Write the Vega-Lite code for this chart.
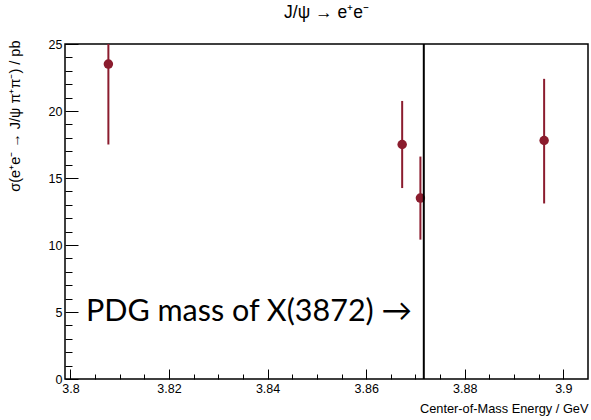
{
  "$schema": "https://vega.github.io/schema/vega-lite/v6.json",
  "width": 523,
  "height": 335,
  "autosize": {"type": "none"},
  "padding": {"left": 65, "top": 44, "right": 3, "bottom": 41},
  "background": "white",
  "title": {"text": "J/ψ → e⁺e⁻", "anchor": "middle", "fontSize": 17.5, "font": "Liberation Sans", "fontWeight": "normal", "offset": 17, "color": "black"},
  "config": {
    "view": {"stroke": "black", "strokeWidth": 1.5},
    "axis": {"domain": false, "grid": false, "zindex": 1, "labelFont": "Liberation Sans", "labelFontSize": 12.5, "labelColor": "black", "tickColor": "black", "titleFont": "Liberation Sans", "titleFontWeight": "normal", "titleFontSize": 12.8, "titleColor": "black"}
  },
  "datasets": {
    "points": [
      {"energy": 3.8077, "sigma": 23.5, "lo": 17.5, "hi": 29.5},
      {"energy": 3.8673, "sigma": 17.5, "lo": 14.25, "hi": 20.75},
      {"energy": 3.8710, "sigma": 13.5, "lo": 10.4, "hi": 16.6},
      {"energy": 3.8961, "sigma": 17.8, "lo": 13.1, "hi": 22.4}
    ],
    "mass": [{"energy": 3.87169, "textpos": 3.8693, "y": 5, "label": "PDG mass of X(3872) →"}]
  },
  "encoding": {
    "x": {"field": "energy", "type": "quantitative", "scale": {"domain": [3.7989, 3.905], "nice": false, "zero": false},
      "axis": {"values": [3.8, 3.805, 3.81, 3.815, 3.82, 3.825, 3.83, 3.835, 3.84, 3.845, 3.85, 3.855, 3.86, 3.865, 3.87, 3.875, 3.88, 3.885, 3.89, 3.895, 3.9],
        "labelExpr": "abs(round(datum.value*1000) % 20) < 0.5 ? format(datum.value, '~g') : ''",
        "tickSize": {"condition": {"test": "abs(round(datum.value*1000) % 20) < 0.5", "value": -10}, "value": -5},
        "labelPadding": 13, "labelFlush": false, "labelOverlap": false,
        "title": "Center-of-Mass Energy / GeV", "titleAnchor": "end", "titleAlign": "right", "titleX": 523, "titleY": 36, "titleBaseline": "bottom"}},
    "y": {"field": "sigma", "type": "quantitative", "scale": {"domain": [0, 25], "nice": false},
      "axis": {"values": [0,1,2,3,4,5,6,7,8,9,10,11,12,13,14,15,16,17,18,19,20,21,22,23,24,25],
        "labelExpr": "datum.value % 5 == 0 ? datum.label : ''",
        "tickSize": {"condition": {"test": "datum.value % 5 == 0", "value": -13}, "value": -7},
        "labelPadding": 16, "labelOverlap": false, "labelFlush": false,
        "title": "σ(e⁺e⁻ → J/ψ π⁺π⁻) / pb", "titleFontSize": 14.5, "titleAngle": -90, "titleAlign": "right", "titleBaseline": "middle", "titleX": -50, "titleY": -4}}
  },
  "layer": [
    {
      "data": {"name": "points"},
      "mark": {"type": "rule", "color": "#8b1c2e", "strokeWidth": 2, "clip": true},
      "encoding": {
        "y": {"field": "lo", "type": "quantitative"},
        "y2": {"field": "hi"}
      }
    },
    {
      "data": {"name": "points"},
      "mark": {"type": "point", "filled": true, "color": "#8b1c2e", "opacity": 1, "size": 90, "shape": "circle"}
    },
    {
      "data": {"name": "mass"},
      "mark": {"type": "rule", "color": "black", "strokeWidth": 2},
      "encoding": {"y": null}
    },
    {
      "data": {"name": "mass"},
      "mark": {"type": "text", "align": "right", "baseline": "middle", "font": "Lato", "fontSize": 30.5, "color": "black"},
      "encoding": {
        "x": {"field": "textpos", "type": "quantitative"},
        "y": {"field": "y", "type": "quantitative"},
        "text": {"field": "label"}
      }
    }
  ]
}
